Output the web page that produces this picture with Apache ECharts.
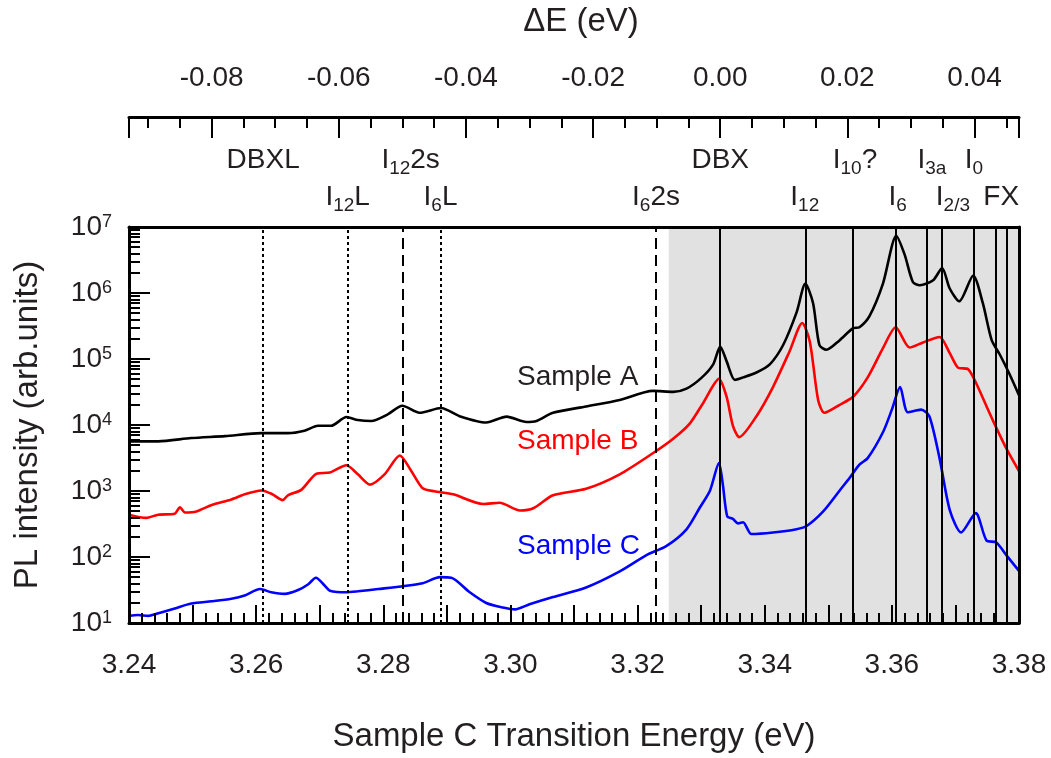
<!DOCTYPE html>
<html><head><meta charset="utf-8">
<script src="https://cdn.jsdelivr.net/npm/echarts@6/dist/echarts.min.js"></script>
<style>html,body{margin:0;padding:0;background:#fff}#c{width:1051px;height:758px}</style>
</head><body><div id="c"></div>
<script>
// ---------- data ----------
const energyA = [3.2400,3.2446,3.2498,3.2551,3.2608,3.2650,3.2676,3.2697,3.2718,3.2742,3.2760,3.2781,3.2807,3.2830,3.2857,3.2891,3.2920,3.2962,3.2994,3.3025,3.3041,3.3067,3.3119,3.3172,3.3224,3.3256,3.3277,3.3300,3.3319,3.3330,3.3340,3.3353,3.3366,3.3387,3.3408,3.3429,3.3450,3.3464,3.3476,3.3486,3.3497,3.3518,3.3539,3.3549,3.3565,3.3586,3.3607,3.3620,3.3633,3.3644,3.3665,3.3679,3.3691,3.3706,3.3728,3.3743,3.3757,3.3770,3.3785,3.3800];
const intensityA = [5650,5650,6340,6780,7520,7520,8200,9730,9730,13200,11900,11500,14500,19600,15300,18100,13600,10900,13400,11100,11500,15300,19100,24000,32900,31800,35600,51300,83000,154000,92900,48300,52700,62500,83000,163000,504000,1390000,706000,163000,138000,193000,293000,303000,451000,1390000,7380000,3840000,1470000,1310000,1560000,2390000,1170000,748000,1840000,706000,193000,116000,59200,28200];

const energyB = [3.2400,3.2427,3.2446,3.2472,3.2480,3.2488,3.2506,3.2530,3.2561,3.2582,3.2608,3.2624,3.2642,3.2650,3.2671,3.2695,3.2716,3.2742,3.2760,3.2779,3.2802,3.2826,3.2844,3.2862,3.2880,3.2910,3.2957,3.2983,3.3015,3.3036,3.3067,3.3119,3.3172,3.3224,3.3256,3.3282,3.3303,3.3328,3.3340,3.3350,3.3360,3.3387,3.3413,3.3439,3.3459,3.3471,3.3484,3.3494,3.3518,3.3539,3.3562,3.3586,3.3606,3.3628,3.3649,3.3675,3.3691,3.3704,3.3720,3.3733,3.3749,3.3764,3.3780,3.3800];
const intensityB = [438,391,438,453,566,473,490,614,743,891,1020,910,728,861,1040,1830,1900,2460,1790,1250,1790,3450,2010,1100,990,891,635,664,507,548,861,1080,1790,3730,6190,10500,21400,50000,26800,9730,6560,13600,37600,130000,351000,183000,24000,15300,20200,26800,52700,146000,303000,149000,178000,216000,123000,74000,70100,42200,19100,9200,4420,2000];

const energyC = [3.2400,3.2414,3.2430,3.2446,3.2472,3.2498,3.2530,3.2561,3.2582,3.2606,3.2624,3.2645,3.2666,3.2682,3.2694,3.2708,3.2716,3.2742,3.2760,3.2792,3.2828,3.2862,3.2889,3.2907,3.2936,3.2962,3.2988,3.3007,3.3030,3.3067,3.3119,3.3172,3.3214,3.3245,3.3277,3.3298,3.3314,3.3328,3.3334,3.3341,3.3350,3.3358,3.3366,3.3379,3.3413,3.3450,3.3466,3.3492,3.3518,3.3534,3.3549,3.3562,3.3586,3.3600,3.3613,3.3625,3.3646,3.3659,3.3675,3.3691,3.3709,3.3732,3.3749,3.3764,3.3780,3.3800];
const intensityC = [12.8,13.2,12.8,14.0,16.6,19.7,21.3,23.3,26.1,32.7,29.2,27.6,31.6,38.7,48.5,36.6,30.9,29.2,30.2,32.7,35.8,40.1,49.5,48.5,29.2,20.1,17.2,16.1,19.2,24.7,34.6,60.7,107,146,263,562,1020,2660,1280,414,378,323,337,223,235,264,295,490,1020,1600,2510,3150,7760,17100,37600,15600,17100,13600,3150,519,235,462,177,167,107,61.7];

const seriesNames = ['Sample A','Sample B','Sample C'];
const bottomTickLabels = [3.24,3.26,3.28,3.30,3.32,3.34,3.36,3.38];
const topTickLabels = [-0.08,-0.06,-0.04,-0.02,0.00,0.02,0.04];
const DBX_ENERGY = 3.333;
const dottedLines = [3.2610,3.2744,3.2890];
const dashedLines = [3.2830,3.3229];
const solidLines = [3.3330,3.3464,3.3539,3.3606,3.3655,3.3678,3.3729,3.3763,3.3780];
const shadedRange = [3.3249,3.38];
const peakLabels = [
  {text:'{b|DBXL}', e:3.2611, row:0},
  {text:'{b|I}{s|12}{b|2s}', e:3.2843, row:0},
  {text:'{b|DBX}', e:3.3330, row:0},
  {text:'{b|I}{s|10}{b|?}', e:3.3542, row:0},
  {text:'{b|I}{s|3a}', e:3.3663, row:0},
  {text:'{b|I}{s|0}', e:3.3729, row:0},
  {text:'{b|I}{s|12}{b|L}', e:3.2744, row:1},
  {text:'{b|I}{s|6}{b|L}', e:3.2890, row:1},
  {text:'{b|I}{s|6}{b|2s}', e:3.3229, row:1},
  {text:'{b|I}{s|12}', e:3.3463, row:1},
  {text:'{b|I}{s|6}', e:3.3609, row:1},
  {text:'{b|I}{s|2/3}', e:3.3696, row:1},
  {text:'{b|FX}', e:3.3772, row:1}
];

// ---------- styling ----------
const FONT = '"Liberation Sans", Arial, Helvetica, sans-serif';
const TXT = '#231f20';
const colors = ['#000000','#ff0000','#0000ff'];
function pairs(xs, ys){ return xs.map((x,i)=>[x, ys[i]]); }
const topMin = 3.24 - DBX_ENERGY, topMax = 3.38 - DBX_ENERGY;
const topMajor = [topMin].concat(topTickLabels, [topMax]);
const topMinor = []; for (let k = -18; k <= 9; k++) topMinor.push(k * 0.005);
const yMinor = []; for (let d = 1; d < 7; d++) for (let m = 2; m < 10; m++) yMinor.push(m * Math.pow(10, d));

const chart = echarts.init(document.getElementById('c'));
const tickStyle = {color:'#000', width:2};
chart.setOption({
  animation:false,
  backgroundColor:'#fff',
  grid:{left:129, right:32, top:222, bottom:128, show:false},
  xAxis:[
    {type:'value', position:'bottom', min:3.24, max:3.38, interval:0.01, z:10,
     axisLine:{show:true, onZero:false, lineStyle:{color:'#000', width:3}},
     axisTick:{show:true, inside:true, length:18, lineStyle:tickStyle},
     minorTick:{show:true, splitNumber:5, length:10, lineStyle:tickStyle},
     splitLine:{show:false}, minorSplitLine:{show:false},
     axisLabel:{customValues:bottomTickLabels, formatter:v=>v.toFixed(2), fontSize:28, fontFamily:FONT, color:TXT, margin:28, showMinLabel:true, showMaxLabel:true},
     name:'Sample C Transition Energy (eV)', nameLocation:'middle', nameGap:97,
     nameTextStyle:{fontSize:33, fontFamily:FONT, color:TXT}},
    {type:'value', position:'top', min:3.24, max:3.38, z:10,
     axisLine:{show:true, onZero:false, lineStyle:{color:'#000', width:3}},
     axisTick:{show:false}, axisLabel:{show:false}, splitLine:{show:false}},
    {type:'value', position:'top', offset:110, min:topMin, max:topMax, z:10,
     axisLine:{show:true, onZero:false, lineStyle:{color:'#000', width:3}},
     axisTick:{show:true, inside:true, length:21, customValues:topMajor, lineStyle:tickStyle},
     axisLabel:{customValues:topTickLabels, formatter:v=>(Math.abs(v)<1e-9?0:v).toFixed(2), fontSize:28, fontFamily:FONT, color:TXT, margin:25},
     splitLine:{show:false},
     name:'ΔE (eV)', nameLocation:'middle', nameGap:79,
     nameTextStyle:{fontSize:33, fontFamily:FONT, color:TXT, padding:[0,0,0,14]}},
    {type:'value', position:'top', offset:110, min:topMin, max:topMax, z:10,
     axisLine:{show:false, onZero:false},
     axisTick:{show:true, inside:true, length:11, customValues:topMinor, lineStyle:tickStyle},
     axisLabel:{show:false}, splitLine:{show:false}}
  ],
  yAxis:[
    {type:'log', logBase:10, position:'left', min:10, max:1e7, z:10,
     axisLine:{show:true, onZero:false, lineStyle:{color:'#000', width:3}},
     axisTick:{show:true, inside:true, length:21, lineStyle:tickStyle},
     splitLine:{show:false},
     axisLabel:{margin:17, formatter:v=>'{b|10}{p|' + Math.round(Math.log10(v)) + '}',
       rich:{b:{fontSize:28, lineHeight:28, verticalAlign:'top', fontFamily:FONT, color:TXT},
             p:{fontSize:18, lineHeight:18, verticalAlign:'top', fontFamily:FONT, color:TXT}}},
     name:'PL intensity (arb.units)', nameLocation:'middle', nameGap:85,
     nameTextStyle:{fontSize:33, fontFamily:FONT, color:TXT}},
    {type:'log', logBase:10, position:'left', min:10, max:1e7, z:10,
     axisLine:{show:false, onZero:false},
     axisTick:{show:true, inside:true, length:11, customValues:yMinor, lineStyle:tickStyle},
     axisLabel:{show:false}, splitLine:{show:false}},
    {type:'log', logBase:10, position:'right', min:10, max:1e7, z:10,
     axisLine:{show:true, onZero:false, lineStyle:{color:'#000', width:3}},
     axisTick:{show:false}, axisLabel:{show:false}, splitLine:{show:false}}
  ],
  series:[
    {type:'line', name:'shade', xAxisIndex:0, yAxisIndex:0, z:1, data:[], silent:true,
     markArea:{silent:true, itemStyle:{color:'#e1e1e1'},
       data:[[{xAxis:shadedRange[0]},{xAxis:shadedRange[1]}]]}},
    {type:'line', name:'lines', xAxisIndex:0, yAxisIndex:0, z:2, data:[], silent:true,
     markLine:{silent:true, precision:6, symbol:['none','none'], label:{show:false},
       data:[].concat(
         dottedLines.map(e=>({xAxis:e, lineStyle:{type:[3,3], color:'#000', width:2}})),
         dashedLines.map(e=>({xAxis:e, lineStyle:{type:[11,6], color:'#000', width:2}})),
         solidLines.map(e=>({xAxis:e, lineStyle:{type:'solid', color:'#000', width:2}}))
       )}},
    {type:'line', name:seriesNames[0], xAxisIndex:0, yAxisIndex:0, z:3, data:pairs(energyA,intensityA), showSymbol:false, symbol:'none', smooth:0.25, lineStyle:{color:colors[0], width:2.6}},
    {type:'line', name:seriesNames[1], xAxisIndex:0, yAxisIndex:0, z:3, data:pairs(energyB,intensityB), showSymbol:false, symbol:'none', smooth:0.25, lineStyle:{color:colors[1], width:2.6}},
    {type:'line', name:seriesNames[2], xAxisIndex:0, yAxisIndex:0, z:3, data:pairs(energyC,intensityC), showSymbol:false, symbol:'none', smooth:0.25, lineStyle:{color:colors[2], width:2.6}}
  ]
});

// annotation texts
const rowTop = [146, 183];
const labelRich = {
  b:{fontSize:28, lineHeight:28, verticalAlign:'top', fontFamily:FONT, fill:TXT, color:TXT},
  s:{fontSize:19, lineHeight:19, verticalAlign:'top', padding:[13,0,0,0], fontFamily:FONT, fill:TXT, color:TXT}
};
const graphics = peakLabels.map(l => ({
  type:'text', silent:true, z:20,
  x: chart.convertToPixel({xAxisIndex:0}, l.e), y: rowTop[l.row],
  style:{text:l.text, rich:labelRich, align:'center', verticalAlign:'top', fontSize:28, fontFamily:FONT, fill:TXT}
}));
const sampleLabelY = [377, 441, 546];
seriesNames.forEach((n,i) => {
  graphics.push({type:'text', silent:true, z:20, x:517, y:sampleLabelY[i],
    style:{text:n, fontSize:28, fontFamily:FONT, fill: i===0 ? TXT : colors[i], align:'left', verticalAlign:'middle'}});
});
chart.setOption({graphic:graphics});
</script>
</body></html>
